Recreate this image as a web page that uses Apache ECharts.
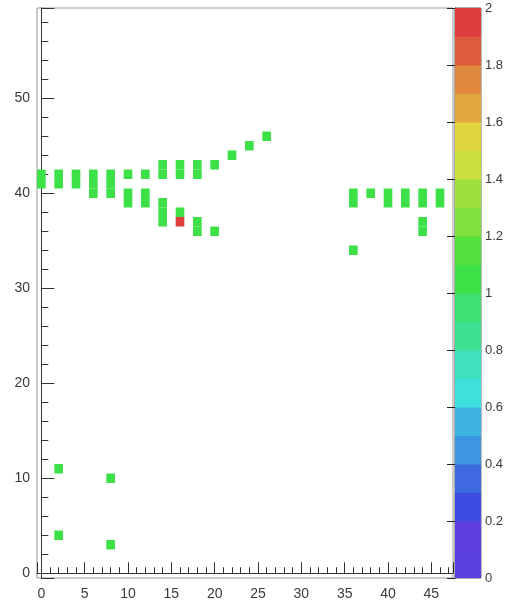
<!DOCTYPE html>
<html>
<head>
<meta charset="utf-8">
<script src="https://cdn.jsdelivr.net/npm/echarts@6/dist/echarts.min.js"></script>
<style>
  html, body { margin: 0; padding: 0; background: #fff; }
  #chart { width: 506px; height: 605px; }
</style>
</head>
<body>
<div id="chart"></div>
<script>
// filled bins of the 2D histogram (bin centre x, bin centre y, content)
var cellX = [0, 0, 2, 2, 2, 2, 4, 4, 6, 6, 6, 8, 8, 8, 8, 8,
             10, 10, 10, 12, 12, 12, 14, 14, 14, 14, 14, 16, 16, 16, 16,
             18, 18, 18, 18, 20, 20, 22, 24, 26,
             36, 36, 36, 38, 40, 40, 42, 42, 44, 44, 44, 44, 46, 46];
var cellY = [41, 42, 41, 42, 11, 4, 41, 42, 40, 41, 42, 40, 41, 42, 10, 3,
             42, 39, 40, 42, 39, 40, 42, 43, 37, 38, 39, 42, 43, 38, 37,
             42, 43, 36, 37, 43, 36, 44, 45, 46,
             39, 40, 34, 40, 39, 40, 39, 40, 39, 40, 36, 37, 39, 40];
var cellZ = [1, 1, 1, 1, 1, 1, 1, 1, 1, 1, 1, 1, 1, 1, 1, 1,
             1, 1, 1, 1, 1, 1, 1, 1, 1, 1, 1, 1, 1, 1, 2,
             1, 1, 1, 1, 1, 1, 1, 1, 1,
             1, 1, 1, 1, 1, 1, 1, 1, 1, 1, 1, 1, 1, 1];

// colour scale contours
var zLevels = [0, 0.1, 0.2, 0.3, 0.4, 0.5, 0.6, 0.7, 0.8, 0.9,
               1, 1.1, 1.2, 1.3, 1.4, 1.5, 1.6, 1.7, 1.8, 1.9];
var zMin = 0, zMax = 2;

// rainbow palette, violet -> red
var palette = zLevels.map(function (lv, j) {
    var idx = Math.floor((j + 0.99) * 50 / zLevels.length);
    var hue = 280 - (idx + 1) * 5.6;
    if (j === 0) hue = 250;
    return 'hsl(' + hue.toFixed(1) + ',72%,56%)';
});

function colorFor(z) {
    var j = Math.floor((z - zMin) / (zMax - zMin) * zLevels.length + 1e-6);
    if (j < 0) j = 0;
    if (j > zLevels.length - 1) j = zLevels.length - 1;
    return palette[j];
}

var cells = cellX.map(function (x, i) { return [x, cellY[i], cellZ[i]]; });
var bands = zLevels.map(function (lv, j) { return [lv, j]; });

var font = '"Liberation Sans", Arial, sans-serif';
var chart = echarts.init(document.getElementById('chart'));

chart.setOption({
    backgroundColor: '#fff',
    animation: false,
    grid: [
        { left: 37, right: 53, top: 8, bottom: 27, show: true, borderColor: '#999', borderWidth: 1, backgroundColor: 'transparent' },
        { left: 455, right: 25, top: 8, bottom: 27, show: true, borderColor: '#555', borderWidth: 1, backgroundColor: 'transparent' }
    ],
    xAxis: [
        {
            gridIndex: 0, type: 'value', min: -0.5, max: 47.5, splitNumber: 10,
            splitLine: { show: false },
            axisLine: { lineStyle: { color: '#333', width: 1 } },
            axisTick: { inside: true, length: 11, lineStyle: { color: '#333' } },
            minorTick: { show: true, splitNumber: 5, length: 6, lineStyle: { color: '#333' } },
            axisLabel: {
                margin: 9, color: '#3a3a3a', fontSize: 14, fontFamily: font,
                formatter: function (v) { return (v % 5 === 0) ? String(v) : ''; }
            }
        },
        { gridIndex: 1, type: 'value', min: 0, max: 1, show: false }
    ],
    yAxis: [
        {
            gridIndex: 0, type: 'value', min: -0.5, max: 59.5, splitNumber: 6,
            splitLine: { show: false },
            axisLine: { lineStyle: { color: '#333', width: 1 } },
            axisTick: { inside: true, length: 13, lineStyle: { color: '#333' } },
            minorTick: { show: true, splitNumber: 5, length: 7, lineStyle: { color: '#333' } },
            axisLabel: {
                margin: 7, color: '#3a3a3a', fontSize: 14, fontFamily: font,
                formatter: function (v) { return (v % 10 === 0) ? String(v) : ''; }
            }
        },
        {
            gridIndex: 1, type: 'value', min: zMin, max: zMax, interval: 0.2, position: 'right',
            splitLine: { show: false },
            axisLine: { show: true, lineStyle: { color: '#333' } },
            axisTick: { inside: true, length: 8, lineStyle: { color: '#222' } },
            axisLabel: { margin: 4, color: '#3a3a3a', fontSize: 13, fontFamily: font }
        }
    ],
    series: [
        {
            type: 'custom',
            xAxisIndex: 0, yAxisIndex: 0,
            clip: true,
            data: cells,
            renderItem: function (params, api) {
                var p = api.coord([api.value(0) - 0.5, api.value(1) + 0.5]);
                var s = api.size([1, 1]);
                return {
                    type: 'rect',
                    shape: { x: p[0], y: p[1], width: s[0], height: s[1] },
                    style: { fill: colorFor(api.value(2)) }
                };
            }
        },
        {
            type: 'custom',
            xAxisIndex: 1, yAxisIndex: 1,
            clip: true,
            data: bands,
            z: 1,
            renderItem: function (params, api) {
                var lv = api.value(0);
                var p0 = api.coord([0, lv + (zMax - zMin) / zLevels.length]);
                var p1 = api.coord([1, lv]);
                return {
                    type: 'rect',
                    shape: { x: p0[0], y: p0[1], width: p1[0] - p0[0], height: p1[1] - p0[1] + 0.5 },
                    style: { fill: palette[api.value(1)] }
                };
            }
        }
    ]
});
</script>
</body>
</html>
